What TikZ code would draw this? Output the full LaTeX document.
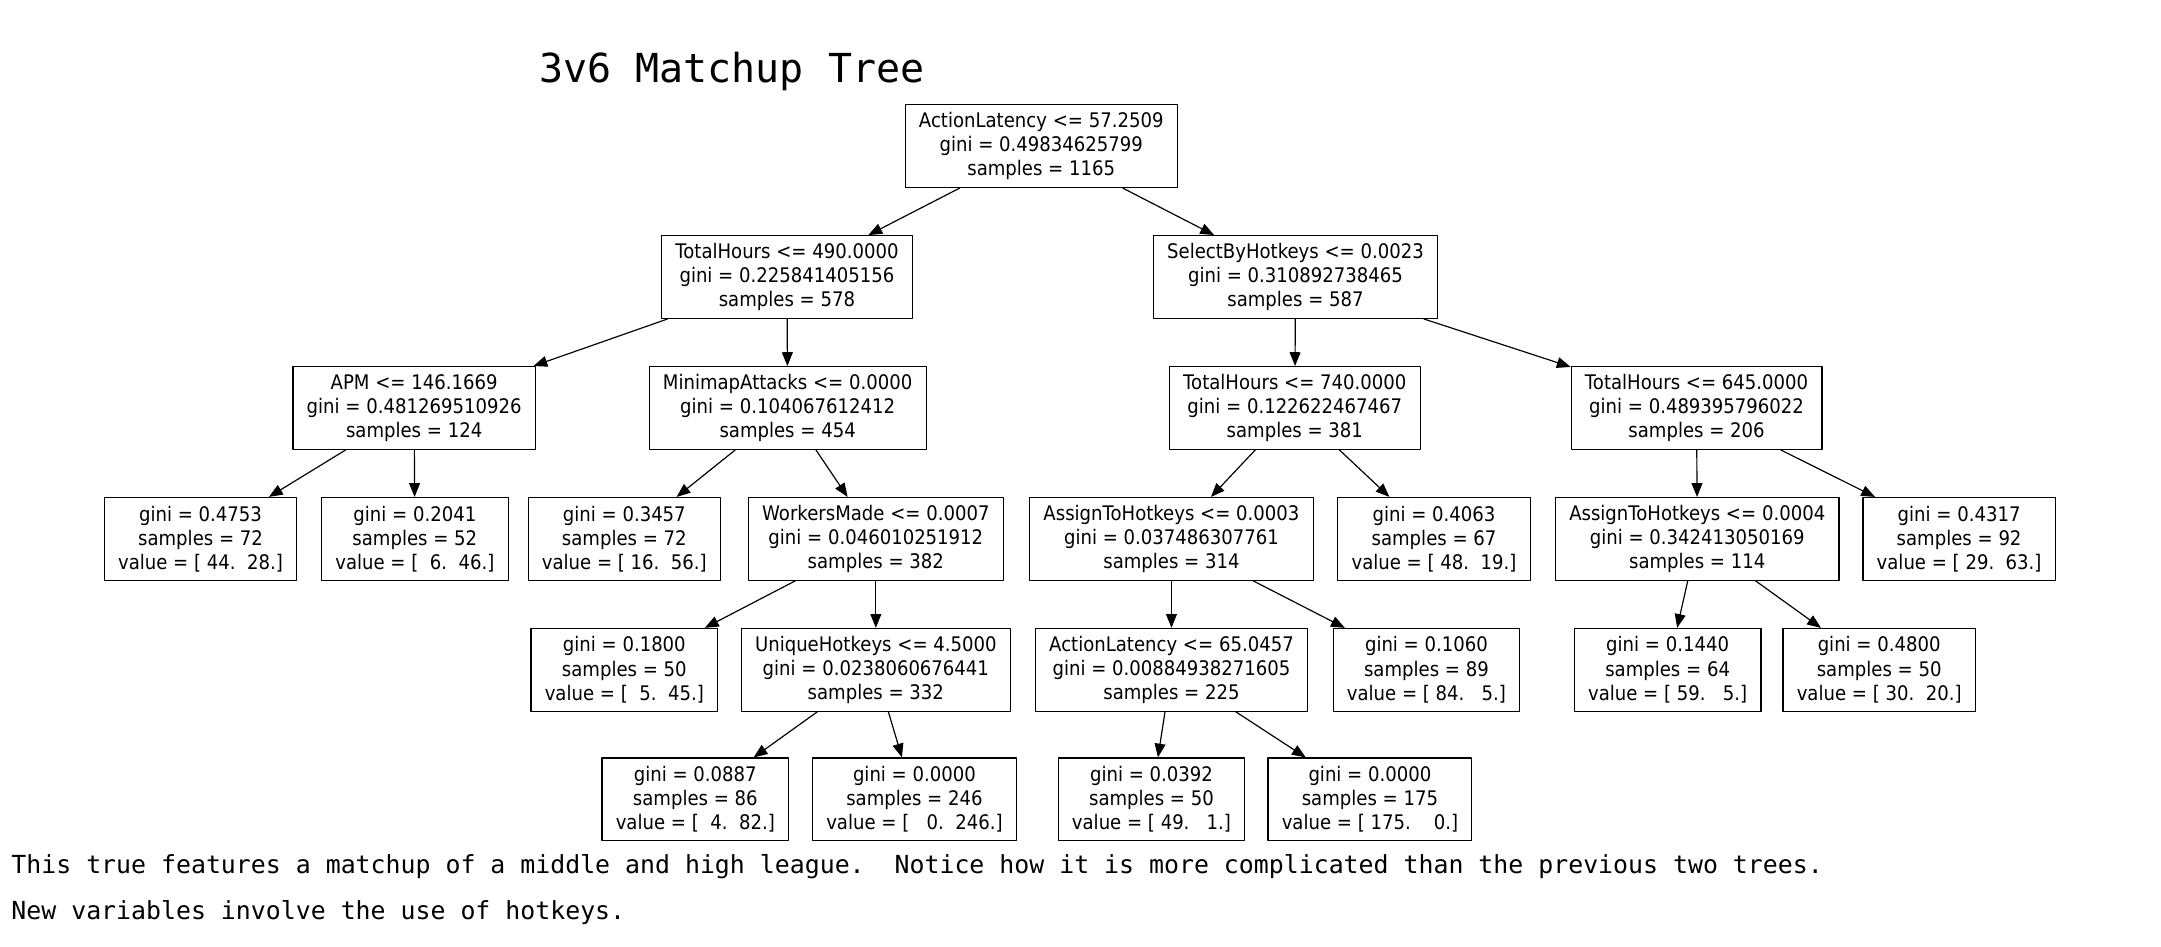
\documentclass[tikz,border=0pt]{standalone}
\usepackage{fontspec}
\setmainfont{DejaVu Sans}[FakeStretch=0.9]
\newfontfamily\monofont{DejaVu Sans Mono}
\usetikzlibrary{arrows.meta}

\begin{document}
\begin{tikzpicture}[x=.7pt,y=-.7pt,line join=round,
  font=\fontsize{10.2}{12.25}\selectfont,
  split/.style={draw,line width=.6pt,align=center,inner xsep=7pt,
    inner ysep=2pt,minimum height=42pt},
  leaf/.style={split},
  edge/.style={line width=.6pt,-{Triangle[length=7pt,width=5.5pt]}},
  caption/.style={font=\monofont\fontsize{12.63}{15}\selectfont,anchor=west,
    inner sep=0pt}]
  \path[use as bounding box] (0,0) rectangle (1568,687);
  \node[font=\monofont\fontsize{20.3}{24}\selectfont,inner sep=0pt] (title)
    at (531,52) {3v6 Matchup Tree};
  % splits
  \node[split] (root) at (755.5,106) {ActionLatency <= 57.2509\\gini = 0.49834625799\\samples = 1165};
  \node[split] (th490) at (571,201) {TotalHours <= 490.0000\\gini = 0.225841405156\\samples = 578};
  \node[split] (sbh) at (940,201) {SelectByHotkeys <= 0.0023\\gini = 0.310892738465\\samples = 587};
  \node[split] (apm) at (300.5,296) {APM <= 146.1669\\gini = 0.481269510926\\samples = 124};
  \node[split] (mma) at (571.5,296) {MinimapAttacks <= 0.0000\\gini = 0.104067612412\\samples = 454};
  \node[split] (th740) at (939.5,296) {TotalHours <= 740.0000\\gini = 0.122622467467\\samples = 381};
  \node[split] (th645) at (1231,296) {TotalHours <= 645.0000\\gini = 0.489395796022\\samples = 206};
  \node[split] (wm) at (635.5,391) {WorkersMade <= 0.0007\\gini = 0.046010251912\\samples = 382};
  \node[split] (ath3) at (850,391) {AssignToHotkeys <= 0.0003\\gini = 0.037486307761\\samples = 314};
  \node[split] (ath4) at (1231.5,391) {AssignToHotkeys <= 0.0004\\gini = 0.342413050169\\samples = 114};
  \node[split] (uh) at (635.5,486) {UniqueHotkeys <= 4.5000\\gini = 0.0238060676441\\samples = 332};
  \node[split] (al65) at (850,486) {ActionLatency <= 65.0457\\gini = 0.00884938271605\\samples = 225};
  % leaves
  \node[leaf] (g4753) at (145.5,391) {gini = 0.4753\\samples = 72\\value = [~44.~~28.]};
  \node[leaf] (g2041) at (301,391) {gini = 0.2041\\samples = 52\\value = [~~6.~~46.]};
  \node[leaf] (g3457) at (453,391) {gini = 0.3457\\samples = 72\\value = [~16.~~56.]};
  \node[leaf] (g4063) at (1040.5,391) {gini = 0.4063\\samples = 67\\value = [~48.~~19.]};
  \node[leaf] (g4317) at (1421.5,391) {gini = 0.4317\\samples = 92\\value = [~29.~~63.]};
  \node[leaf] (g1800) at (453,486) {gini = 0.1800\\samples = 50\\value = [~~5.~~45.]};
  \node[leaf] (g1060) at (1035,486) {gini = 0.1060\\samples = 89\\value = [~84.~~~5.]};
  \node[leaf] (g1440) at (1210,486) {gini = 0.1440\\samples = 64\\value = [~59.~~~5.]};
  \node[leaf] (g4800) at (1363.5,486) {gini = 0.4800\\samples = 50\\value = [~30.~~20.]};
  \node[leaf] (g0887) at (504.5,580) {gini = 0.0887\\samples = 86\\value = [~~4.~~82.]};
  \node[leaf] (g0000a) at (663.5,580) {gini = 0.0000\\samples = 246\\value = [~~~0.~~246.]};
  \node[leaf] (g0392) at (835.5,580) {gini = 0.0392\\samples = 50\\value = [~49.~~~1.]};
  \node[leaf] (g0000b) at (994,580) {gini = 0.0000\\samples = 175\\value = [~175.~~~~0.]};
  % edges
  \draw[edge] (root)--(th490);
  \draw[edge] (root)--(sbh);
  \draw[edge] (th490)--(apm);
  \draw[edge] (th490)--(mma);
  \draw[edge] (sbh)--(th740);
  \draw[edge] (sbh)--(th645);
  \draw[edge] (apm)--(g4753);
  \draw[edge] (apm)--(g2041);
  \draw[edge] (mma)--(g3457);
  \draw[edge] (mma)--(wm);
  \draw[edge] (th740)--(ath3);
  \draw[edge] (th740)--(g4063);
  \draw[edge] (th645)--(ath4);
  \draw[edge] (th645)--(g4317);
  \draw[edge] (wm)--(g1800);
  \draw[edge] (wm)--(uh);
  \draw[edge] (ath3)--(al65);
  \draw[edge] (ath3)--(g1060);
  \draw[edge] (ath4)--(g1440);
  \draw[edge] (ath4)--(g4800);
  \draw[edge] (uh)--(g0887);
  \draw[edge] (uh)--(g0000a);
  \draw[edge] (al65)--(g0392);
  \draw[edge] (al65)--(g0000b);
  \node[caption] (cap1) at (8,629) {This true features a matchup of a middle and high league.~~Notice how it is more complicated than the previous two trees.};
  \node[caption] (cap2) at (8,662) {New variables involve the use of hotkeys.};
\end{tikzpicture}
\end{document}
